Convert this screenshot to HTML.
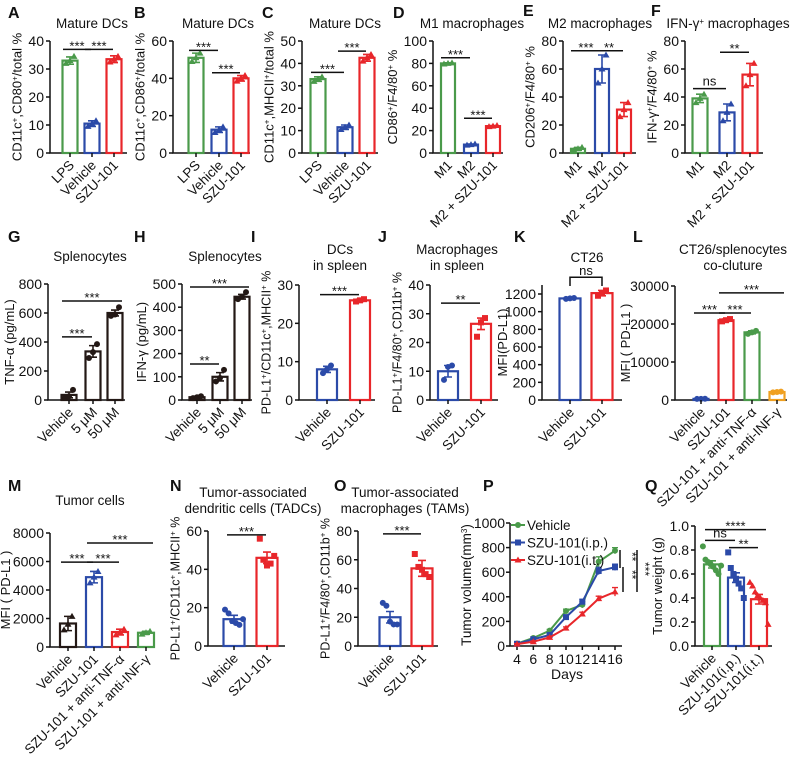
<!DOCTYPE html>
<html><head><meta charset="utf-8"><style>
html,body{margin:0;padding:0;background:#fff;width:800px;height:762px;overflow:hidden}
svg{display:block;font-family:"Liberation Sans",Arial,sans-serif}
</style></head><body>
<svg id="fig" width="800" height="762" viewBox="0 0 800 762" xmlns="http://www.w3.org/2000/svg"></svg>
<script>
// ---------- data ----------
const aCats=['LPS','Vehicle','SZU-101']; const aMeans=[33,10.5,33.5]; const aErr=[1.3,1,1.2];
const aPts=[[32,33,34.5],[9.5,10.5,11.5],[32.5,33.5,34.5]]; const aSig=[[0,1,37,'***'],[1,2,37,'***']];
const bCats=['LPS','Vehicle','SZU-101']; const bMeans=[51,12.5,40]; const bErr=[2.5,1.5,1.5];
const bPts=[[49,51,53.5],[11,12.5,14],[38.5,40,41.5]]; const bSig=[[0,1,55,'***'],[1,2,43,'***']];
const cCats=['LPS','Vehicle','SZU-101']; const cMeans=[33,11.5,42.5]; const cErr=[1,1,1.5];
const cPts=[[32,33,34],[10.5,11.5,12.5],[41,42.5,44]]; const cSig=[[0,1,36,'***'],[1,2,45.5,'***']];
const dCats=['M1','M2','M2 + SZU-101']; const dMeans=[80,7.5,24]; const dErr=[0.5,0.5,0.5];
const dPts=[[79.5,80,80.5],[7,7.5,8],[23.5,24,24.5]]; const dSig=[[0,1,85,'***'],[1,2,31,'***']];
const eCats=['M1','M2','M2 + SZU-101']; const eMeans=[3,60,31]; const eErr=[1,10,5];
const ePts=[[2,3,4],[50,60,70],[26,31,36]]; const eSig=[[0,1,73,'***'],[1,2,73,'**']];
const fCats=['M1','M2','M2 + SZU-101']; const fMeans=[39,29,56]; const fErr=[3,6,8];
const fPts=[[36,39,42],[23,29,35],[48,56,64]]; const fSig=[[0,1,46,'ns'],[1,2,72,'**']];
const gCats=['Vehicle','5 μM','50 μM']; const gMeans=[35,335,600]; const gErr=[20,40,20];
const gPts=[[15,25,70],[290,330,385],[580,590,640]]; const gSig=[[0,1,435,'***'],[0,2,683,'***']];
const hCats=['Vehicle','5 μM','50 μM']; const hMeans=[12,100,445]; const hErr=[4,18,10];
const hPts=[[8,12,16],[80,95,130],[435,445,465]]; const hSig=[[0,1,155,'**'],[0,2,487,'***']];
const iCats=['Vehicle','SZU-101']; const iMeans=[8,26]; const iErr=[0.8,0.3];
const iPts=[[7,8,9],[25.7,26,26.3]]; const iSig=[[0,1,27.5,'***']];
const jCats=['Vehicle','SZU-101']; const jMeans=[10,26.5]; const jErr=[2,2];
const jPts=[[7,11.5,12],[22,27,28.5]]; const jSig=[[0,1,33.7,'**']];
const kCats=['Vehicle','SZU-101']; const kMeans=[1150,1210]; const kErr=[10,30];
const kPts=[[1145,1150,1155],[1180,1210,1240]];
const lCats=['Vehicle','SZU-101','SZU-101 + anti-TNF-α','SZU-101 + anti-INF-γ']; const lMeans=[300,21000,17800,2100]; const lErr=[50,300,400,100];
const lPts=[[280,300,320],[20700,21000,21300],[17400,17800,18200],[2000,2100,2200]]; const lSig=[[0,1,22900,'***'],[1,2,22900,'***'],[1,3,28200,'***']];
const mCats=['Vehicle','SZU-101','SZU-101 + anti-TNF-α','SZU-101 + anti-INF-γ']; const mMeans=[1650,4900,1050,1000]; const mErr=[500,400,200,100];
const mPts=[[1200,1600,2150],[4500,4900,5300],[850,1050,1250],[900,1000,1100]]; const mSig=[[0,1,5960,'***'],[1,2,5960,'***'],[1,3,7300,'***']];
const nCats=['Vehicle','SZU-101']; const nMeans=[14,46]; const nErr=[2,3];
const nPts=[[19,17,13,12,11,14],[56,45,42,43,47]]; const nSig=[[0,1,58,'***']];
const oCats=['Vehicle','SZU-101']; const oMeans=[20,54]; const oErr=[4,5.5];
const oPts=[[30,28,17,15,15],[64,55,53,50,48]]; const oSig=[[0,1,78,'***']];
const qCats=['Vehicle','SZU-101(i.p.)','SZU-101(i.t.)']; const qMeans=[0.68,0.57,0.39]; const qErr=[0.03,0.04,0.04];
const qPts=[[0.83,0.72,0.70,0.68,0.66,0.63,0.60,0.67],[0.78,0.65,0.60,0.56,0.52,0.48,0.40],[0.53,0.50,0.45,0.42,0.40,0.38,0.36,0.18]];
const qSig=[[0,1,0.88,'ns'],[1,2,0.82,'**'],[0,2,0.97,'****']];
const pDays=[4,6,8,10,12,14,16];
const pVeh=[20,65,125,285,335,685,775]; const pVehErr=[5,8,10,15,25,40,25];
const pIp=[18,55,90,235,360,610,640]; const pIpErr=[5,8,10,15,20,30,25];
const pIt=[15,35,70,145,260,385,440]; const pItErr=[5,6,8,10,15,20,35];
const pTicks=[0,200,400,600,800,1000];

// ---------- helpers ----------
const NS='http://www.w3.org/2000/svg';
const svg=document.getElementById('fig');
const G='#4a9a4a',B='#2b4aa8',R='#e8262a',O='#f0a020',K='#231815';
function el(tag,attrs,parent){const e=document.createElementNS(NS,tag);for(const k in attrs)e.setAttribute(k,attrs[k]);(parent||svg).appendChild(e);return e;}
function rich(t,s){const parts=s.split('^');parts.forEach((p,i)=>{if(!p)return;const ts=el('tspan',i%2?{'baseline-shift':'super','font-size':'8'}:{},t);ts.textContent=p;});}
function marker(g,shape,x,y,c,name){let m;
 if(shape==='sq')m=el('rect',{x:x-3,y:y-3,width:6,height:6,fill:c},g);
 else if(shape==='tri')m=el('polygon',{points:`${x},${y-3.5} ${x-3.5},${y+2.5} ${x+3.5},${y+2.5}`,fill:c},g);
 else m=el('circle',{cx:x,cy:y,r:3,fill:c},g);
 
 }
function txt(g,x,y,s,opts,name){const t=el('text',Object.assign({x:x,y:y,'font-size':13,fill:'#111'},opts||{}),g);rich(t,s);
 
 return t;}

function panel(c){
 const g=el('g',{});
 
 
 txt(g,c.lx,c.ly,c.letter,{'font-size':16,'font-weight':'bold'},'panel-letter');
 c.title.forEach((s,i)=>txt(g,c.tx,c.ty+i*16,s,{'text-anchor':'middle','font-size':13.5},'panel-title'));
 const y=v=>c.yBot-v/c.max*(c.yBot-c.yTop);
 const axTop=c.axTop||y(c.ticks[c.ticks.length-1]);
 const ax=el('path',{d:`M${c.ax},${axTop}V${c.yBot}H${c.x1}`,stroke:'#111','stroke-width':1.5,fill:'none'},g);
 
 
 let maxLen=0;
 c.ticks.forEach((v,i)=>{const lab=c.tickLabels?c.tickLabels[i]:String(v);maxLen=Math.max(maxLen,lab.length);
  const tk=el('line',{x1:c.ax-4,x2:c.ax,y1:y(v),y2:y(v),stroke:'#111','stroke-width':1.5},g);
  
  
  txt(g,c.ax-6,y(v)+5,lab,{'text-anchor':'end','font-size':14},'y-tick-label');});
 const tx=c.tx2||(c.ax-8-maxLen*7.3-6);
 txt(g,0,0,c.ytitle,{'text-anchor':'middle','font-size':c.ytSize||13,transform:`translate(${tx},${(axTop+c.yBot)/2}) rotate(-90)`},'y-axis-title');
 c.cats.forEach((cat,i)=>{const cx=c.xs[i],col=c.colors[i];
  const bar=el('rect',{x:cx-c.bw/2,y:y(c.means[i]),width:c.bw,height:c.yBot-y(c.means[i]),fill:'#fff',stroke:col,'stroke-width':2.2},g);
  
  
  const eb=el('path',{d:`M${cx},${y(c.means[i]-c.err[i])}V${y(c.means[i]+c.err[i])}M${cx-4},${y(c.means[i]+c.err[i])}H${cx+4}M${cx-4},${y(c.means[i]-c.err[i])}H${cx+4}`,stroke:col,'stroke-width':1.6,fill:'none'},g);
  
  
  const pts=c.pts[i],n=pts.length;
  pts.forEach((v,k)=>marker(g,c.shapes?c.shapes[i]:'dot',cx+(k-(n-1)/2)*(n>4?(n>6?2.6:3.6):4),y(v),col,'data-point'));
  const xt=el('line',{x1:cx,x2:cx,y1:c.yBot,y2:c.yBot+4,stroke:'#111','stroke-width':1.5},g);
  
  
  txt(g,0,0,cat,{'text-anchor':'end','font-size':13.5,transform:`translate(${cx+5},${c.yBot+13}) rotate(-45)`},'x-tick-label');});
 (c.sig||[]).forEach(s=>{const x1=c.xs[s[0]]-7,x2=c.xs[s[1]]+(s[1]-s[0]>1?7:-1),yy=y(s[2]);
  const l=el('line',{x1:x1,x2:x2,y1:yy,y2:yy,stroke:'#111','stroke-width':1.5},g);
  
  
  txt(g,(x1+x2)/2,s[3]==='ns'?yy-3:yy+1,s[3],{'text-anchor':'middle','font-size':13},'significance-label');});
 return {g,y};
}

const r1={yTop:41,yBot:153};
panel(Object.assign({letter:'A',lx:8,ly:18,title:['Mature DCs'],tx:92,ty:28,ax:50,x1:127,max:40,ticks:[0,10,20,30,40],xs:[70,92,114],bw:15,colors:[G,B,R],shapes:['tri','tri','tri'],cats:aCats,means:aMeans,err:aErr,pts:aPts,sig:aSig,ytitle:'CD11c^+^,CD80^+^/total %'},r1));
panel(Object.assign({letter:'B',lx:134,ly:18,title:['Mature DCs'],tx:218,ty:28,ax:173,x1:250,max:60,ticks:[0,20,40,60],xs:[196,219,241],bw:15,colors:[G,B,R],shapes:['tri','tri','tri'],cats:bCats,means:bMeans,err:bErr,pts:bPts,sig:bSig,ytitle:'CD11c^+^,CD86^+^/total %'},r1));
panel(Object.assign({letter:'C',lx:262,ly:18,title:['Mature DCs'],tx:345,ty:28,ax:302,x1:378,max:50,ticks:[0,10,20,30,40,50],xs:[318,345,367],bw:15,colors:[G,B,R],shapes:['tri','tri','tri'],cats:cCats,means:cMeans,err:cErr,pts:cPts,sig:cSig,ytitle:'CD11c^+^,MHCII^+^/total %'},r1));
panel(Object.assign({letter:'D',lx:393,ly:18,title:['M1 macrophages'],tx:472,ty:28,ax:433,x1:503,max:100,ticks:[0,20,40,60,80,100],xs:[448,471,493],bw:14,colors:[G,B,R],shapes:['tri','tri','tri'],cats:dCats,means:dMeans,err:dErr,pts:dPts,sig:dSig,ytitle:'CD86^+^/F4/80^+^ %'},r1));
panel(Object.assign({letter:'E',lx:523,ly:16,title:['M2 macrophages'],tx:600,ty:28,ax:563,x1:636,max:80,ticks:[0,20,40,60,80],xs:[578,602,624],bw:14,colors:[G,B,R],shapes:['tri','tri','tri'],cats:eCats,means:eMeans,err:eErr,pts:ePts,sig:eSig,ytitle:'CD206^+^/F4/80^+^ %'},r1));
panel(Object.assign({letter:'F',lx:651,ly:16,title:['IFN-γ^+^ macrophages'],tx:728,ty:28,ax:685,x1:763,max:80,ticks:[0,20,40,60,80],xs:[700,727,750],bw:15,colors:[G,B,R],shapes:['tri','tri','tri'],cats:fCats,means:fMeans,err:fErr,pts:fPts,sig:fSig,ytitle:'IFN-γ^+^/F4/80^+^ %'},r1));

const r2={yBot:400};
panel(Object.assign({letter:'G',lx:8,ly:242,title:['Splenocytes'],tx:90,ty:261,ax:48,x1:125,yTop:284,max:800,ticks:[0,200,400,600,800],xs:[69,93,115],bw:15,colors:[K,K,K],cats:gCats,means:gMeans,err:gErr,pts:gPts,sig:gSig,ytitle:'TNF-α (pg/mL)',tx2:14},r2));
panel(Object.assign({letter:'H',lx:134,ly:242,title:['Splenocytes'],tx:225,ty:261,ax:182,x1:252,yTop:284,max:500,ticks:[0,100,200,300,400,500],xs:[197,220,242],bw:15,colors:[K,K,K],cats:hCats,means:hMeans,err:hErr,pts:hPts,sig:hSig,ytitle:'IFN-γ (pg/mL)'},r2));
panel(Object.assign({letter:'I',lx:251,ly:242,title:['DCs','in spleen'],tx:340,ty:254,ax:299,x1:375,yTop:285,max:30,ticks:[0,10,20,30],xs:[327,360],bw:20,colors:[B,R],shapes:['dot','sq'],cats:iCats,means:iMeans,err:iErr,pts:iPts,sig:iSig,ytitle:'PD-L1^+^/CD11c^+^,MHCII^+^ %',ytSize:12.5},r2));
panel(Object.assign({letter:'J',lx:378,ly:242,title:['Macrophages','in spleen'],tx:457,ty:254,ax:430,x1:498,yTop:285,max:40,ticks:[0,10,20,30,40],xs:[448,481],bw:20,colors:[B,R],shapes:['dot','sq'],cats:jCats,means:jMeans,err:jErr,pts:jPts,ytitle:'PD-L1^+^/F4/80^+^,CD11b^+^ %',ytSize:12.5,sig:jSig},r2));
const pk=panel(Object.assign({letter:'K',lx:514,ly:242,title:['CT26'],tx:587,ty:262,ax:542,x1:622,yTop:294,axTop:285,max:1200,ticks:[0,200,400,600,800,1000,1200],xs:[570,602],bw:21,colors:[B,R],shapes:['dot','sq'],cats:kCats,means:kMeans,err:kErr,pts:kPts,ytitle:'MFI(PD-L1)',tx2:507},r2));
{const yy=pk.y(1390),yb=pk.y(1290);const br=el('path',{d:`M570,${yb}V${yy}H602V${yb}`,stroke:'#111','stroke-width':1.5,fill:'none'},pk.g);
 
 
 txt(pk.g,586,yy-2,'ns',{'text-anchor':'middle'},'significance-label');}
panel(Object.assign({letter:'L',lx:633,ly:242,title:['CT26/splenocytes','co-cluture'],tx:733,ty:254,ax:675,x1:787,yTop:286,max:30000,ticks:[0,10000,20000,30000],xs:[701,726,752,777],bw:15,colors:[B,R,G,O],shapes:['dot','sq','dot','dot'],cats:lCats,means:lMeans,err:lErr,pts:lPts,sig:lSig,ytitle:'MFI ( PD-L1 )',tx2:630},r2));

const r3={};
panel(Object.assign({letter:'M',lx:8,ly:491,title:['Tumor cells'],tx:90,ty:505,ax:50,x1:155,yTop:533,yBot:647,max:8000,ticks:[0,2000,4000,6000,8000],xs:[68,94,120,146],bw:16,colors:[K,B,R,G],shapes:['tri','tri','tri','tri'],cats:mCats,means:mMeans,err:mErr,pts:mPts,sig:mSig,ytitle:'MFI ( PD-L1 )',tx2:10},r3));
panel(Object.assign({letter:'N',lx:170,ly:491,title:['Tumor-associated','dendritic cells (TADCs)'],tx:253,ty:497,ax:208,x1:285,yTop:531,yBot:646,max:60,ticks:[0,20,40,60],xs:[234,267],bw:21,colors:[B,R],shapes:['dot','sq'],cats:nCats,means:nMeans,err:nErr,pts:nPts,sig:nSig,ytitle:'PD-L1^+^/CD11c^+^,MHCII^+^ %',ytSize:12.5},r3));
panel(Object.assign({letter:'O',lx:334,ly:491,title:['Tumor-associated','macrophages (TAMs)'],tx:405,ty:497,ax:358,x1:438,yTop:531,yBot:646,max:80,ticks:[0,20,40,60,80],xs:[390,422],bw:21,colors:[B,R],shapes:['dot','sq'],cats:oCats,means:oMeans,err:oErr,pts:oPts,sig:oSig,ytitle:'PD-L1^+^/F4/80^+^,CD11b^+^ %',ytSize:12.5},r3));
panel(Object.assign({letter:'Q',lx:645,ly:491,title:[],tx:0,ty:0,ax:695,x1:772,yTop:526,yBot:646,max:1.0,ticks:[0,0.2,0.4,0.6,0.8,1.0],tickLabels:['0.0','0.2','0.4','0.6','0.8','1.0'],xs:[712,736,759],bw:16,colors:[G,B,R],shapes:['dot','sq','tri'],cats:qCats,means:qMeans,err:qErr,pts:qPts,sig:qSig,ytitle:'Tumor weight (g)',tx2:662},r3));

// ---------- line chart P ----------
(function(){
 const g=el('g',{});
 
 
 txt(g,483,491,'P',{'font-size':16,'font-weight':'bold'},'panel-letter');
 const ax=510,yBot=646,yTop=523,max=1000;
 const y=v=>yBot-v/max*(yBot-yTop);
 const x=d=>517+(d-4)/12*98;
 const a=el('path',{d:`M${ax},${yTop}V${yBot}H622`,stroke:'#111','stroke-width':1.5,fill:'none'},g);
 
 
 pTicks.forEach(v=>{const t=el('line',{x1:ax-4,x2:ax,y1:y(v),y2:y(v),stroke:'#111','stroke-width':1.5},g);
  
  
  txt(g,ax-5,y(v)+5,String(v),{'text-anchor':'end','font-size':14},'y-tick-label');});
 pDays.forEach(d=>{const t=el('line',{x1:x(d),x2:x(d),y1:yBot,y2:yBot+4,stroke:'#111','stroke-width':1.5},g);
  
  
  txt(g,x(d),yBot+18,String(d),{'text-anchor':'middle','font-size':14},'x-tick-label');});
 txt(g,567,679,'Days',{'text-anchor':'middle','font-size':14},'x-axis-title');
 txt(g,0,0,'Tumor volume(mm^3^)',{'text-anchor':'middle','font-size':13.5,transform:'translate(471,585) rotate(-90)'},'y-axis-title');
 const series=[[pVeh,pVehErr,G,'dot','vehicle'],[pIp,pIpErr,B,'sq','szu-101-ip'],[pIt,pItErr,R,'tri','szu-101-it']];
 series.forEach(s=>{const d=pDays.map((dd,i)=>(i?'L':'M')+x(dd)+','+y(s[0][i])).join('');
  const ln=el('path',{d:d,stroke:s[2],'stroke-width':2,fill:'none'},g);
  
  
  pDays.forEach((dd,i)=>{const e=el('path',{d:`M${x(dd)},${y(s[0][i]-s[1][i])}V${y(s[0][i]+s[1][i])}M${x(dd)-3},${y(s[0][i]+s[1][i])}H${x(dd)+3}`,stroke:s[2],'stroke-width':1.3,fill:'none'},g);
   
   
   marker(g,s[3],x(dd),y(s[0][i]),s[2],'data-point');});});
 const leg=[['Vehicle',G,'dot'],['SZU-101(i.p.)',B,'sq'],['SZU-101(i.t.)',R,'tri']];
 leg.forEach((l,i)=>{const yy=525+i*17.5;
  const ll=el('line',{x1:511,x2:525,y1:yy,y2:yy,stroke:l[1],'stroke-width':2},g);
  
  
  marker(g,l[2],518,yy,l[1],'legend-marker');
  txt(g,527,yy+5,l[0],{'font-size':13.5},'legend-entry');});
 const sg=[[620,550,568],[623,567,592],[637,550,592]];
 sg.forEach(s=>{const l=el('line',{x1:s[0],x2:s[0],y1:s[1],y2:s[2],stroke:'#111','stroke-width':1.5},g);
  
  });
 txt(g,0,0,'**',{'font-size':12,transform:'translate(628,552) rotate(90)'},'significance-label');
 txt(g,0,0,'**',{'font-size':12,transform:'translate(628,570) rotate(90)'},'significance-label');
 txt(g,0,0,'***',{'font-size':12,transform:'translate(641,562) rotate(90)'},'significance-label');
})();
</script>
</body></html>
